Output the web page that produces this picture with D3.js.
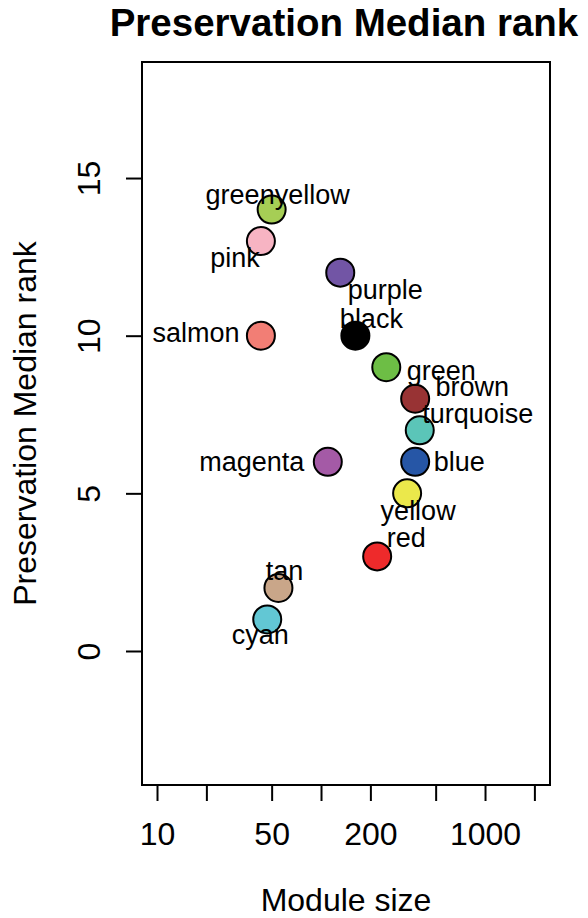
<!DOCTYPE html>
<html>
<head>
<meta charset="utf-8">
<script src="https://cdn.jsdelivr.net/npm/d3@7"></script>
<style>
  body { margin:0; background:#fff; }
  text { font-family: "Liberation Sans", Arial, Helvetica, sans-serif; fill:#000; }
</style>
</head>
<body>
<div id="plot"></div>
<script>
// module data
var modules = ['greenyellow','pink','salmon','purple','black','green','brown',
               'turquoise','blue','yellow','red','magenta','tan','cyan'];
var moduleSize = [50, 43, 43, 131, 162, 250, 375, 400, 375, 335, 220, 110, 55, 47];
var medianRank = [14, 13, 10, 12, 10, 9, 8, 7, 6, 5, 3, 6, 2, 1];
var fills = ['#A6CE55','#F7B4C3','#F27E75','#7255A5','#000000','#6DBE45','#983334',
             '#5BC5B8','#2656A6','#EBE84B','#EE2A2B','#A45AA6','#C9A689','#62C7D4'];

var xTicks = [10, 20, 50, 100, 200, 500, 1000, 2000];
var xTickLabels = {10:'10', 50:'50', 200:'200', 1000:'1000'};
var yTicks = [0, 5, 10, 15];

// label nudges (px) from the point centre to the label baseline centre
var labelNudge = {
  greenyellow:[6,-6], pink:[-26,26], salmon:[-65,6], purple:[45,26], black:[16,-8],
  green:[55,13], brown:[57,-3], turquoise:[58,-7], blue:[44,9], yellow:[11,27],
  red:[29,-9], magenta:[-76,9], tan:[6,-8], cyan:[-7,25]
};

var W = 588, H = 918;
var box = {l:142, r:550, t:62, b:785};

var svg = d3.select('#plot').append('svg')
  .attr('width', W).attr('height', H);

var x = d3.scaleLog().domain([8.1, 2490]).range([box.l, box.r]);
var y = d3.scaleLinear().domain([-4.25, 18.68]).range([box.b, box.t]);

// axes
var xAxis = d3.axisBottom(x).tickValues(xTicks).tickSize(16)
  .tickFormat(function(d){ return xTickLabels[d] || ''; });
var gx = svg.append('g').attr('transform','translate(0,'+box.b+')').call(xAxis);
gx.select('.domain').remove();
gx.selectAll('line').attr('stroke','#000').attr('stroke-width',2);
gx.selectAll('text').attr('y',60).attr('dy',0)
  .style('font-size','32px').style('font-family','"Liberation Sans", Arial, sans-serif');

var yAxis = d3.axisLeft(y).tickValues(yTicks).tickSize(16);
var gy = svg.append('g').attr('transform','translate('+box.l+',0)').call(yAxis);
gy.select('.domain').remove();
gy.selectAll('line').attr('stroke','#000').attr('stroke-width',2);
gy.selectAll('text').attr('x',0).attr('dy',0)
  .attr('text-anchor','middle')
  .attr('transform','translate(-42,0) rotate(-90)')
  .style('font-size','32px').style('font-family','"Liberation Sans", Arial, sans-serif');

// box
svg.append('rect')
  .attr('x',box.l).attr('y',box.t)
  .attr('width',box.r-box.l).attr('height',box.b-box.t)
  .attr('fill','none').attr('stroke','#000').attr('stroke-width',2);

// titles
svg.append('text')
  .attr('x',344).attr('y',36)
  .attr('text-anchor','middle')
  .style('font-size','38.5px').style('font-weight','bold')
  .text('Preservation Median rank');

svg.append('text')
  .attr('x',(box.l+box.r)/2).attr('y',911)
  .attr('text-anchor','middle')
  .style('font-size','32px')
  .text('Module size');

svg.append('text')
  .attr('transform','translate(36,'+((box.t+box.b)/2)+') rotate(-90)')
  .attr('text-anchor','middle')
  .style('font-size','32px')
  .text('Preservation Median rank');

var data = modules.map(function(m,i){
  return {name:m, size:moduleSize[i], rank:medianRank[i], fill:fills[i]};
});

// points
svg.append('g').selectAll('circle')
  .data(data).enter().append('circle')
  .attr('cx',function(d){ return x(d.size); })
  .attr('cy',function(d){ return y(d.rank); })
  .attr('r',14)
  .attr('fill',function(d){ return d.fill; })
  .attr('stroke','#000').attr('stroke-width',2);

// labels
svg.append('g').selectAll('text')
  .data(data).enter().append('text')
  .attr('x',function(d){ return x(d.size)+labelNudge[d.name][0]; })
  .attr('y',function(d){ return y(d.rank)+labelNudge[d.name][1]; })
  .attr('text-anchor','middle')
  .style('font-size','27px')
  .text(function(d){ return d.name; });
</script>
</body>
</html>
